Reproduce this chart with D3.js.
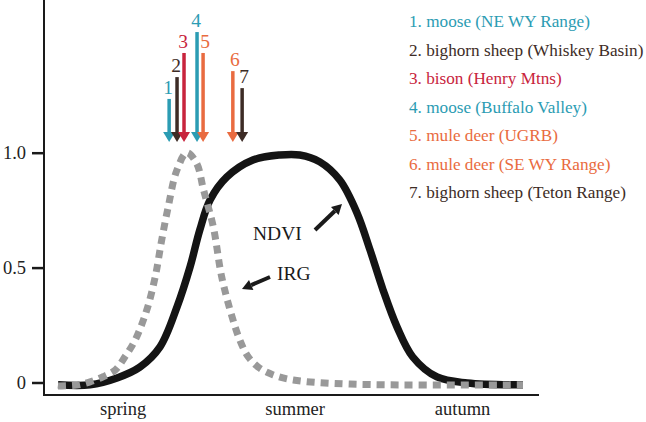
<!DOCTYPE html>
<html>
<head>
<meta charset="utf-8">
<script src="https://cdn.jsdelivr.net/npm/d3@7"></script>
<style>
  body { margin: 0; background: #fff; }
</style>
</head>
<body>
<div id="chart"></div>
<script>
// season position (0-100) and relative value
const ndviT = [0, 6.9, 12.7, 17.6, 21.9, 25.6, 28.4, 30.5, 32.7, 36.3, 41.9, 47.7, 52, 56.3, 60.6, 64.3, 67.1, 69.9, 72.9, 76.3, 81.5, 88, 100];
const ndviV = [-0.01, -0.01, 0.02, 0.067, 0.154, 0.329, 0.503, 0.664, 0.794, 0.894, 0.968, 0.99, 0.99, 0.96, 0.881, 0.738, 0.577, 0.403, 0.242, 0.111, 0.024, -0.002, -0.01];

const irgT = [0, 4, 6.9, 9.7, 12.3, 14.4, 16.6, 19.1, 20.9, 22.3, 23.7, 25.5, 27.7, 29.8, 31.3, 33.4, 35.2, 37.4, 39.1, 40.9, 43.4, 46.3, 50.6, 62.8, 100];
const irgV = [-0.015, -0.011, 0.003, 0.025, 0.054, 0.112, 0.185, 0.316, 0.459, 0.62, 0.764, 0.92, 1.0, 0.954, 0.838, 0.677, 0.46, 0.288, 0.185, 0.112, 0.062, 0.033, 0.011, -0.007, -0.01];

// migration timing of each herd
const herds = ["moose (NE WY Range)", "bighorn sheep (Whiskey Basin)", "bison (Henry Mtns)", "moose (Buffalo Valley)", "mule deer (UGRB)", "mule deer (SE WY Range)", "bighorn sheep (Teton Range)"];
const herdT = [23.9, 25.6, 27.1, 29.9, 31.2, 37.6, 39.6];
const herdTop = [1.234, 1.329, 1.434, 1.525, 1.434, 1.355, 1.281];
const herdColors = ["#2b9cb3", "#3d2c26", "#c8243d", "#2b9cb3", "#e96b40", "#e96b40", "#3d2c26"];

const seasons = ["spring", "summer", "autumn"];
const seasonT = [14, 51, 87];
const yTicks = [0, 0.5, 1];

let width = 646;
let height = 422;
let serif = "'Liberation Serif', 'DejaVu Serif', 'Times New Roman', serif";

let x = d3.scaleLinear().domain([0, 100]).range([58, 523]);
let y = d3.scaleLinear().domain([0, 1]).range([382.5, 152.7]);

let svg = d3.select("#chart")
  .append("svg")
  .attr("width", width)
  .attr("height", height)
  .style("font-family", serif);

//Axes lines
svg.append("line")
  .attr("x1", 44).attr("x2", 44)
  .attr("y1", 0).attr("y2", 395)
  .attr("stroke", "#1a1a1a").attr("stroke-width", 2);
svg.append("line")
  .attr("x1", 43).attr("x2", 539)
  .attr("y1", 395).attr("y2", 395)
  .attr("stroke", "#1a1a1a").attr("stroke-width", 2);

//Y axis ticks
let yAxis = svg.append("g")
  .attr("transform", "translate(44,0)")
  .call(d3.axisLeft(y).tickValues(yTicks).tickSize(12).tickPadding(6)
    .tickFormat(d => d === 0 ? "0" : d3.format(".1f")(d)));
yAxis.attr("font-family", null).attr("font-size", null);
yAxis.select(".domain").remove();
yAxis.selectAll(".tick line").attr("stroke", "#1a1a1a").attr("stroke-width", 2.5);
yAxis.selectAll(".tick text")
  .attr("fill", "#222")
  .style("font-size", "18.5px")
  .style("font-family", serif);

//Season labels
svg.append("g")
  .selectAll("text")
  .data(seasons)
  .enter()
  .append("text")
  .attr("x", (d, i) => x(seasonT[i]))
  .attr("y", 415)
  .attr("text-anchor", "middle")
  .attr("fill", "#222")
  .style("font-size", "18.5px")
  .style("font-family", serif)
  .text(d => d);

//Curves
let line = d3.line()
  .x(d => x(d[0]))
  .y(d => y(d[1]))
  .curve(d3.curveCatmullRom.alpha(0.5));

svg.append("path")
  .datum(ndviT.map((t, i) => [t, ndviV[i]]))
  .attr("d", line)
  .attr("fill", "none")
  .attr("stroke", "#141414")
  .attr("stroke-width", 7.5);

svg.append("path")
  .datum(irgT.map((t, i) => [t, irgV[i]]))
  .attr("d", line)
  .attr("fill", "none")
  .attr("stroke", "#999999")
  .attr("stroke-width", 7)
  .attr("stroke-dasharray", "8,6");

//Herd arrows
let tipY = y(1.047);
let arrows = svg.append("g")
  .selectAll("g")
  .data(herds)
  .enter()
  .append("g");

arrows.append("line")
  .attr("x1", (d, i) => x(herdT[i]))
  .attr("x2", (d, i) => x(herdT[i]))
  .attr("y1", (d, i) => y(herdTop[i]))
  .attr("y2", tipY - 8)
  .attr("stroke", (d, i) => herdColors[i])
  .attr("stroke-width", 3.5);

arrows.append("path")
  .attr("d", (d, i) => {
    let cx = x(herdT[i]);
    return "M" + (cx - 6) + "," + (tipY - 10) + "L" + (cx + 6) + "," + (tipY - 10) + "L" + cx + "," + tipY + "Z";
  })
  .attr("fill", (d, i) => herdColors[i]);

arrows.append("text")
  .attr("x", (d, i) => x(herdT[i]) + (i >= 4 ? 2 : -1))
  .attr("y", (d, i) => y(herdTop[i]) - 5)
  .attr("text-anchor", "middle")
  .attr("fill", (d, i) => herdColors[i])
  .style("font-size", "19.5px")
  .style("font-family", serif)
  .text((d, i) => i + 1);

//Legend
svg.append("g")
  .selectAll("text")
  .data(herds)
  .enter()
  .append("text")
  .attr("x", 409)
  .attr("y", (d, i) => 27 + i * 28.5)
  .attr("fill", (d, i) => herdColors[i])
  .style("font-size", "17.2px")
  .style("font-family", serif)
  .text((d, i) => (i + 1) + ". " + d);

//Curve annotations
svg.append("text")
  .attr("x", 253).attr("y", 240)
  .attr("fill", "#1a1a1a")
  .style("font-size", "19.5px")
  .style("font-family", serif)
  .text("NDVI");
svg.append("text")
  .attr("x", 277).attr("y", 280)
  .attr("fill", "#1a1a1a")
  .style("font-size", "19.5px")
  .style("font-family", serif)
  .text("IRG");

function pointer(x1, y1, x2, y2) {
  let a = Math.atan2(y2 - y1, x2 - x1);
  let hl = 10, hw = 5.5;
  let bx = x2 - hl * Math.cos(a), by = y2 - hl * Math.sin(a);
  svg.append("line")
    .attr("x1", x1).attr("y1", y1).attr("x2", bx).attr("y2", by)
    .attr("stroke", "#1a1a1a").attr("stroke-width", 4);
  svg.append("path")
    .attr("d", "M" + x2 + "," + y2 +
      "L" + (bx + hw * Math.sin(a)) + "," + (by - hw * Math.cos(a)) +
      "L" + (bx - hw * Math.sin(a)) + "," + (by + hw * Math.cos(a)) + "Z")
    .attr("fill", "#1a1a1a");
}
pointer(315, 230, 342, 204);
pointer(270, 277, 242, 289);
</script>
</body>
</html>
